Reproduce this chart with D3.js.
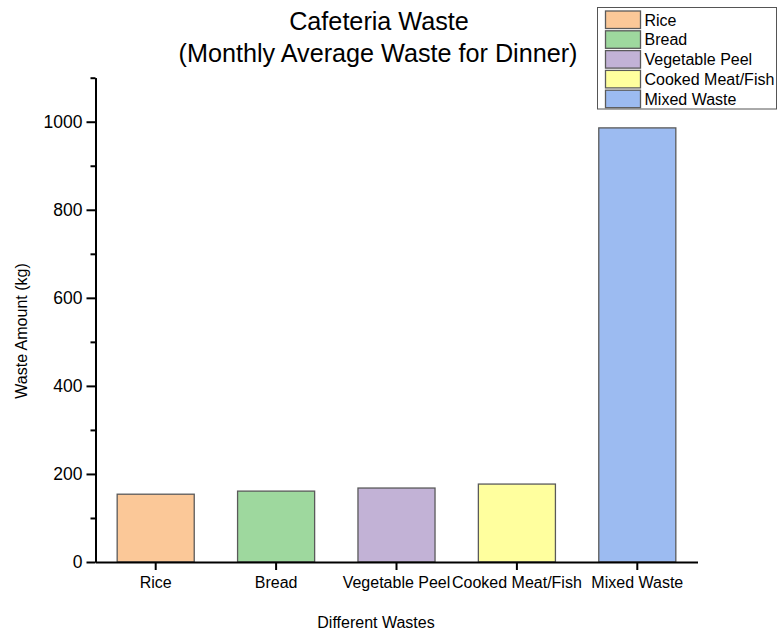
<!DOCTYPE html>
<html>
<head>
<meta charset="utf-8">
<script src="https://cdn.jsdelivr.net/npm/d3@7"></script>
<style>
  html, body { margin: 0; padding: 0; background: #fff; }
  svg { display: block; font-family: "Liberation Sans", Arial, sans-serif; }
</style>
</head>
<body>
<svg id="chart" width="782" height="633"></svg>
<script>
// Waste categories and their monthly average dinner waste (kg)
const categories = ["Rice", "Bread", "Vegetable Peel", "Cooked Meat/Fish", "Mixed Waste"];
const wasteKg = [154, 161, 168, 177, 986];
const barColors = ["#FBC898", "#9ED89E", "#C2B2D6", "#FFFF9E", "#9CBBF1"];
const yMajorTicks = [0, 200, 400, 600, 800, 1000];
const yMinorTicks = [100, 300, 500, 700, 900, 1100];

const svg = d3.select("#chart");
const margin = { left: 95.5, top: 77.7 };
const plotW = 602, plotH = 484.3;

const g = svg.append("g").attr("transform", `translate(${margin.left},${margin.top})`);

const x = d3.scaleBand().domain(categories).range([0, plotW]).paddingInner(0.36).paddingOuter(0.18);
const y = d3.scaleLinear().domain([0, 1100]).range([plotH, 0]);

// Bars
g.selectAll("rect.bar")
  .data(categories)
  .join("rect")
  .attr("class", "bar")
  .attr("x", d => x(d))
  .attr("width", x.bandwidth())
  .attr("y", (d, i) => y(wasteKg[i]))
  .attr("height", (d, i) => y(0) - y(wasteKg[i]))
  .attr("fill", (d, i) => barColors[i])
  .attr("stroke", "#5a5a5a")
  .attr("stroke-width", 1.3);

// Y axis with major and minor ticks
const yAxis = g.append("g")
  .call(d3.axisLeft(y).tickValues(yMajorTicks).tickFormat(d3.format("d"))
    .tickSize(9).tickSizeOuter(0).tickPadding(4));
g.append("g")
  .call(d3.axisLeft(y).tickValues(yMinorTicks).tickSize(5).tickFormat("").tickSizeOuter(0));

// X axis
const xAxis = g.append("g")
  .attr("transform", `translate(0,${plotH})`)
  .call(d3.axisBottom(x).tickSize(8).tickSizeOuter(0).tickPadding(7));

g.selectAll(".domain").attr("stroke", "#000").attr("stroke-width", 2);
g.selectAll(".tick line").attr("stroke", "#000").attr("stroke-width", 2);
yAxis.selectAll("text").attr("font-size", 17.5).attr("fill", "#000").attr("font-family", "Liberation Sans, Arial, sans-serif");
xAxis.selectAll("text").attr("font-size", 16).attr("fill", "#000").attr("font-family", "Liberation Sans, Arial, sans-serif");

// Title
const title = svg.append("text")
  .attr("text-anchor", "middle")
  .attr("font-size", 25.2)
  .attr("fill", "#000");
title.append("tspan").attr("x", 379).attr("y", 30).text("Cafeteria Waste");
title.append("tspan").attr("x", 378).attr("y", 62).text("(Monthly Average Waste for Dinner)");

// Axis titles
svg.append("text")
  .attr("x", 376).attr("y", 628)
  .attr("text-anchor", "middle")
  .attr("font-size", 16)
  .text("Different Wastes");
svg.append("text")
  .attr("transform", "translate(27,331) rotate(-90)")
  .attr("text-anchor", "middle")
  .attr("font-size", 16)
  .text("Waste Amount (kg)");

// Legend
const legend = svg.append("g").attr("transform", "translate(597.5,7.5)");
legend.append("rect")
  .attr("width", 179).attr("height", 101.5)
  .attr("fill", "#fff")
  .attr("stroke", "#555").attr("stroke-width", 1);
const rows = legend.selectAll("g.row")
  .data(categories)
  .join("g")
  .attr("class", "row")
  .attr("transform", (d, i) => `translate(0,${3.5 + i * 19.8})`);
rows.append("rect")
  .attr("x", 8).attr("width", 35).attr("height", 17.5)
  .attr("fill", (d, i) => barColors[i])
  .attr("stroke", "#5a5a5a").attr("stroke-width", 1.3);
rows.append("text")
  .attr("x", 47).attr("y", 14.5)
  .attr("font-size", 16)
  .text(d => d);
</script>
</body>
</html>
